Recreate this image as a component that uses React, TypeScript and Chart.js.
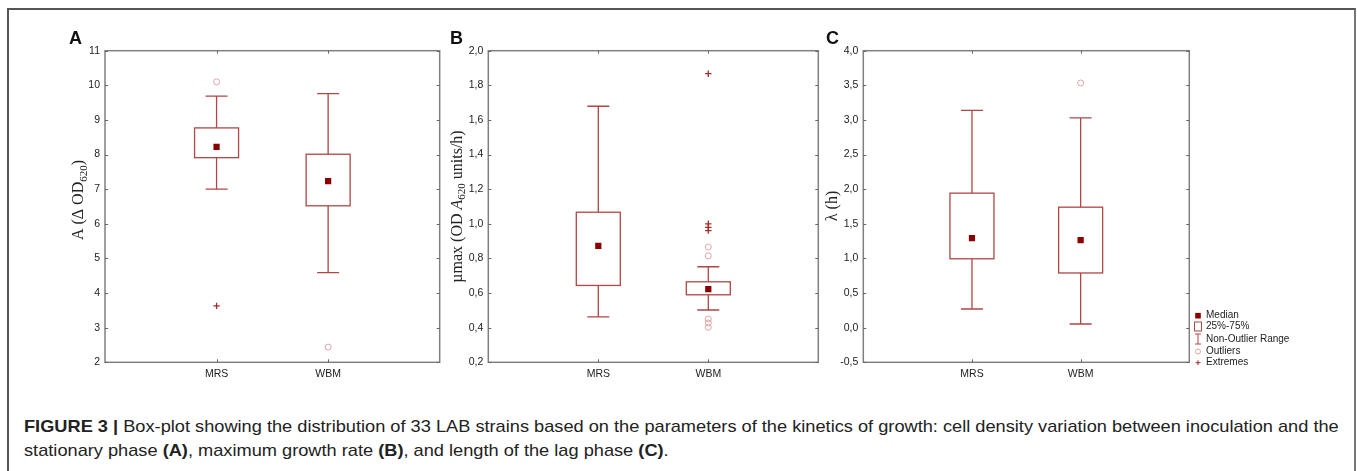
import { useEffect, useRef } from 'react';
import { Chart, registerables } from 'chart.js';

Chart.register(...registerables);

const SANS = '"Liberation Sans", Arial, Helvetica, sans-serif';
const SERIF = '"Liberation Serif", "Times New Roman", serif';
const BOX_COLOR = '#b04646';
const MEDIAN_COLOR = '#8b0000';
const OUTLIER_COLOR = '#e2a4a4';
const EXTREME_COLOR = '#a82828';
const FRAME_COLOR = '#808080';
const TEXT_COLOR = '#222222';

// ---------- data ----------
const categories = ['MRS', 'WBM'];

// Panel A: A (Δ OD620)
const aWhiskerLow = [7.0, 4.59];
const aQ1 = [7.91, 6.52];
const aMedian = [8.22, 7.23];
const aQ3 = [8.77, 8.01];
const aWhiskerHigh = [9.69, 9.76];
const aOutliers = [[10.1], [2.44]];
const aExtremes = [[3.63], []];

// Panel B: µmax
const bWhiskerLow = [0.462, 0.502];
const bQ1 = [0.644, 0.59];
const bMedian = [0.873, 0.623];
const bQ3 = [1.067, 0.665];
const bWhiskerHigh = [1.679, 0.752];
const bOutliers = [[], [0.866, 0.815, 0.45, 0.427, 0.402]];
const bExtremes = [[], [1.867, 1.0, 0.979, 0.961]];

// Panel C: λ (h)
const cWhiskerLow = [0.27, 0.053];
const cQ1 = [0.995, 0.79];
const cMedian = [1.294, 1.265];
const cQ3 = [1.943, 1.74];
const cWhiskerHigh = [3.139, 3.03];
const cOutliers = [[], [3.534]];
const cExtremes = [[], []];

// axis ranges / tick labels
const aAxis = { min: 2, max: 11, step: 1, decimals: 0 };
const bAxis = { min: 0.2, max: 2.0, step: 0.2, decimals: 1 };
const cAxis = { min: -0.5, max: 4.0, step: 0.5, decimals: 1 };

const legendLabels = ['Median', '25%-75%', 'Non-Outlier Range', 'Outliers', 'Extremes'];

// ---------- layout ----------
type Seg = { t: string; size: number; italic?: boolean; sub?: boolean };

interface Panel {
  letter: string;
  letterX: number;
  left: number;
  width: number;
  plotLeft: number;
  plotRight: number;
  axis: { min: number; max: number; step: number; decimals: number };
  low: number[];
  q1: number[];
  med: number[];
  q3: number[];
  high: number[];
  outliers: number[][];
  extremes: number[][];
  title: Seg[];
  titleX: number;
  titleY: number;
  legend?: boolean;
}

const CANVAS_TOP = 10;
const CANVAS_H = 378;
const PLOT_TOP = 50.7;
const PLOT_BOTTOM = 362.3;

const panels: Panel[] = [
  {
    letter: 'A', letterX: 69, left: 10, width: 435, plotLeft: 105, plotRight: 440,
    axis: aAxis, low: aWhiskerLow, q1: aQ1, med: aMedian, q3: aQ3, high: aWhiskerHigh,
    outliers: aOutliers, extremes: aExtremes,
    title: [
      { t: 'A (Δ OD', size: 16 },
      { t: '620', size: 11, sub: true },
      { t: ')', size: 16 },
    ],
    titleX: 83.3, titleY: 200,
  },
  {
    letter: 'B', letterX: 450, left: 445, width: 380, plotLeft: 488.3, plotRight: 818.3,
    axis: bAxis, low: bWhiskerLow, q1: bQ1, med: bMedian, q3: bQ3, high: bWhiskerHigh,
    outliers: bOutliers, extremes: bExtremes,
    title: [
      { t: 'µmax (OD ', size: 16 },
      { t: 'A', size: 16, italic: true },
      { t: '620', size: 11, sub: true },
      { t: ' units/h)', size: 16 },
    ],
    titleX: 461.7, titleY: 206.5,
  },
  {
    letter: 'C', letterX: 826, left: 820, width: 490, plotLeft: 863.3, plotRight: 1189.3,
    axis: cAxis, low: cWhiskerLow, q1: cQ1, med: cMedian, q3: cQ3, high: cWhiskerHigh,
    outliers: cOutliers, extremes: cExtremes,
    title: [{ t: 'λ (h)', size: 16 }],
    titleX: 836.5, titleY: 206,
    legend: true,
  },
];

function fmt(v: number, d: number) {
  return Number(v).toFixed(d).replace('.', ',');
}

function makeChart(canvas: HTMLCanvasElement, p: Panel) {
  const yAxisWidth = p.plotLeft - p.left;
  const padRight = p.left + p.width - p.plotRight;
  const padTop = PLOT_TOP - CANVAS_TOP;
  const xAxisHeight = CANVAS_TOP + CANVAS_H - PLOT_BOTTOM;

  const medianPts = categories.map((_, i) => ({ x: i + 1, y: p.med[i] }));
  const outlierPts = p.outliers.flatMap((arr, i) => arr.map((y) => ({ x: i + 1, y })));
  const extremePts = p.extremes.flatMap((arr, i) => arr.map((y) => ({ x: i + 1, y })));

  const boxPlugin = {
    id: 'boxes' + p.letter,
    beforeDatasetsDraw(chart: any) {
      const ctx = chart.ctx as CanvasRenderingContext2D;
      const xs = chart.scales.x;
      const ys = chart.scales.y;
      ctx.save();
      ctx.strokeStyle = BOX_COLOR;
      ctx.lineWidth = 1.3;
      categories.forEach((_, i) => {
        const cx = xs.getPixelForValue(i + 1);
        const yLow = ys.getPixelForValue(p.low[i]);
        const yQ1 = ys.getPixelForValue(p.q1[i]);
        const yQ3 = ys.getPixelForValue(p.q3[i]);
        const yHigh = ys.getPixelForValue(p.high[i]);
        const bw = 22;
        const cw = 11;
        ctx.beginPath();
        ctx.moveTo(cx, yQ1);
        ctx.lineTo(cx, yLow);
        ctx.moveTo(cx - cw, yLow);
        ctx.lineTo(cx + cw, yLow);
        ctx.moveTo(cx, yQ3);
        ctx.lineTo(cx, yHigh);
        ctx.moveTo(cx - cw, yHigh);
        ctx.lineTo(cx + cw, yHigh);
        ctx.stroke();
        ctx.fillStyle = '#ffffff';
        ctx.fillRect(cx - bw, yQ3, bw * 2, yQ1 - yQ3);
        ctx.strokeRect(cx - bw, yQ3, bw * 2, yQ1 - yQ3);
      });
      ctx.restore();
    },
    afterDraw(chart: any) {
      const ctx = chart.ctx as CanvasRenderingContext2D;
      const a = chart.chartArea;
      const xs = chart.scales.x;
      const ys = chart.scales.y;
      ctx.save();
      // frame
      ctx.strokeStyle = FRAME_COLOR;
      ctx.lineWidth = 1.5;
      ctx.strokeRect(a.left, a.top, a.right - a.left, a.bottom - a.top);
      // inward ticks
      ctx.strokeStyle = '#666666';
      ctx.lineWidth = 1;
      ctx.beginPath();
      ys.ticks.forEach((t: any) => {
        const y = Math.round(ys.getPixelForValue(t.value)) + 0.5;
        ctx.moveTo(a.left, y);
        ctx.lineTo(a.left + 3, y);
        ctx.moveTo(a.right, y);
        ctx.lineTo(a.right - 3, y);
      });
      xs.ticks.forEach((t: any) => {
        const x = Math.round(xs.getPixelForValue(t.value)) + 0.5;
        ctx.moveTo(x, a.top);
        ctx.lineTo(x, a.top + 3);
        ctx.moveTo(x, a.bottom);
        ctx.lineTo(x, a.bottom - 3);
      });
      ctx.stroke();

      // panel letter
      ctx.fillStyle = '#111111';
      ctx.font = `bold 18px ${SANS}`;
      ctx.textAlign = 'left';
      ctx.textBaseline = 'alphabetic';
      ctx.fillText(p.letter, p.letterX - p.left, 44 - CANVAS_TOP);

      // y-axis title (rotated, rich text)
      ctx.save();
      ctx.translate(p.titleX - p.left, p.titleY - CANVAS_TOP);
      ctx.rotate(-Math.PI / 2);
      const fontOf = (s: Seg) => `${s.italic ? 'italic ' : ''}${s.size}px ${SERIF}`;
      let total = 0;
      p.title.forEach((s) => {
        ctx.font = fontOf(s);
        total += ctx.measureText(s.t).width;
      });
      let x = -total / 2;
      ctx.fillStyle = TEXT_COLOR;
      p.title.forEach((s) => {
        ctx.font = fontOf(s);
        ctx.fillText(s.t, x, s.sub ? 3.5 : 0);
        x += ctx.measureText(s.t).width;
      });
      ctx.restore();

      // legend
      if (p.legend) {
        const ix = 1198 - p.left;
        const tx = 1206 - p.left;
        const rows = [315.7, 326.5, 339, 351.5, 362.7].map((v) => v - CANVAS_TOP);
        ctx.font = `10px ${SANS}`;
        ctx.fillStyle = TEXT_COLOR;
        ctx.textBaseline = 'middle';
        legendLabels.forEach((lab, i) => {
          ctx.fillText(lab, tx, rows[i]);
        });
        // median
        ctx.fillStyle = MEDIAN_COLOR;
        ctx.fillRect(ix - 2.8, rows[0] - 2.8, 5.6, 5.6);
        // box
        ctx.strokeStyle = BOX_COLOR;
        ctx.lineWidth = 1;
        ctx.strokeRect(ix - 3.5, rows[1] - 4.5, 7, 9);
        // whisker
        ctx.beginPath();
        ctx.moveTo(ix, rows[2] - 5);
        ctx.lineTo(ix, rows[2] + 5);
        ctx.moveTo(ix - 3, rows[2] - 5);
        ctx.lineTo(ix + 3, rows[2] - 5);
        ctx.moveTo(ix - 3, rows[2] + 5);
        ctx.lineTo(ix + 3, rows[2] + 5);
        ctx.stroke();
        // outlier
        ctx.strokeStyle = OUTLIER_COLOR;
        ctx.beginPath();
        ctx.arc(ix, rows[3], 2.5, 0, Math.PI * 2);
        ctx.stroke();
        // extreme
        ctx.strokeStyle = EXTREME_COLOR;
        ctx.beginPath();
        ctx.moveTo(ix - 2.5, rows[4]);
        ctx.lineTo(ix + 2.5, rows[4]);
        ctx.moveTo(ix, rows[4] - 2.5);
        ctx.lineTo(ix, rows[4] + 2.5);
        ctx.stroke();
      }
      ctx.restore();
    },
  };

  return new Chart(canvas, {
    type: 'scatter',
    data: {
      datasets: [
        {
          label: 'Outliers',
          data: outlierPts,
          pointStyle: 'circle',
          pointRadius: 3,
          borderColor: OUTLIER_COLOR,
          backgroundColor: 'rgba(255,255,255,0)',
          borderWidth: 1,
        },
        {
          label: 'Extremes',
          data: extremePts,
          pointStyle: 'cross',
          pointRadius: 3.2,
          borderColor: EXTREME_COLOR,
          borderWidth: 1.3,
        },
        {
          label: 'Median',
          data: medianPts,
          pointStyle: 'rect',
          pointRadius: 4.4,
          backgroundColor: MEDIAN_COLOR,
          borderColor: MEDIAN_COLOR,
          borderWidth: 0,
        },
      ],
    },
    options: {
      animation: false,
      responsive: false,
      events: [],
      layout: { padding: { top: padTop, right: padRight, left: 0, bottom: 0 } },
      plugins: { legend: { display: false }, tooltip: { enabled: false } },
      scales: {
        x: {
          type: 'linear',
          min: 0,
          max: 3,
          grid: { display: false, drawTicks: false },
          border: { display: false },
          afterBuildTicks: (s: any) => {
            s.ticks = categories.map((_, i) => ({ value: i + 1 }));
          },
          afterFit: (s: any) => {
            s.height = xAxisHeight;
          },
          ticks: {
            padding: 6,
            color: TEXT_COLOR,
            font: { family: SANS, size: 10.5 },
            callback: (v: any) => categories[Math.round(Number(v)) - 1] ?? '',
          },
        },
        y: {
          type: 'linear',
          min: p.axis.min,
          max: p.axis.max,
          grid: { display: false, drawTicks: false },
          border: { display: false },
          afterFit: (s: any) => {
            s.width = yAxisWidth;
          },
          ticks: {
            stepSize: p.axis.step,
            padding: 5,
            color: TEXT_COLOR,
            font: { family: SANS, size: 10.5 },
            callback: (v: any) => fmt(Number(v), p.axis.decimals),
          },
        },
      },
    },
    plugins: [boxPlugin],
  } as any);
}

export default function App() {
  const refs = [useRef<HTMLCanvasElement>(null), useRef<HTMLCanvasElement>(null), useRef<HTMLCanvasElement>(null)];

  useEffect(() => {
    const charts = panels.map((p, i) => makeChart(refs[i].current as HTMLCanvasElement, p));
    return () => charts.forEach((c) => c.destroy());
  }, []);

  return (
    <div
      style={{
        position: 'absolute',
        left: 0,
        top: 0,
        width: 1357,
        height: 471,
        overflow: 'hidden',
        background: '#ffffff',
      }}
    >
      <div
        style={{
          position: 'absolute',
          left: 7,
          top: 8,
          width: 1349,
          height: 480,
          boxSizing: 'border-box',
          borderTop: '2px solid #555555',
          borderLeft: '2px solid #555555',
          borderRight: '2px solid #777777',
        }}
      />
      {panels.map((p, i) => (
        <canvas
          key={p.letter}
          ref={refs[i]}
          width={p.width}
          height={CANVAS_H}
          style={{ position: 'absolute', left: p.left, top: CANVAS_TOP, width: p.width, height: CANVAS_H }}
        />
      ))}
      <div
        style={{
          position: 'absolute',
          left: 24,
          top: 415,
          fontFamily: SANS,
          fontSize: 17,
          lineHeight: '24px',
          color: TEXT_COLOR,
          whiteSpace: 'nowrap',
          transform: 'scaleX(1.071)',
          transformOrigin: '0 0',
        }}
      >
        <div>
          <b>FIGURE 3 |</b> Box-plot showing the distribution of 33 LAB strains based on the parameters of the
          kinetics of growth: cell density variation between inoculation and the
        </div>
        <div>
          stationary phase <b>(A)</b>, maximum growth rate <b>(B)</b>, and length of the lag phase <b>(C)</b>.
        </div>
      </div>
    </div>
  );
}
